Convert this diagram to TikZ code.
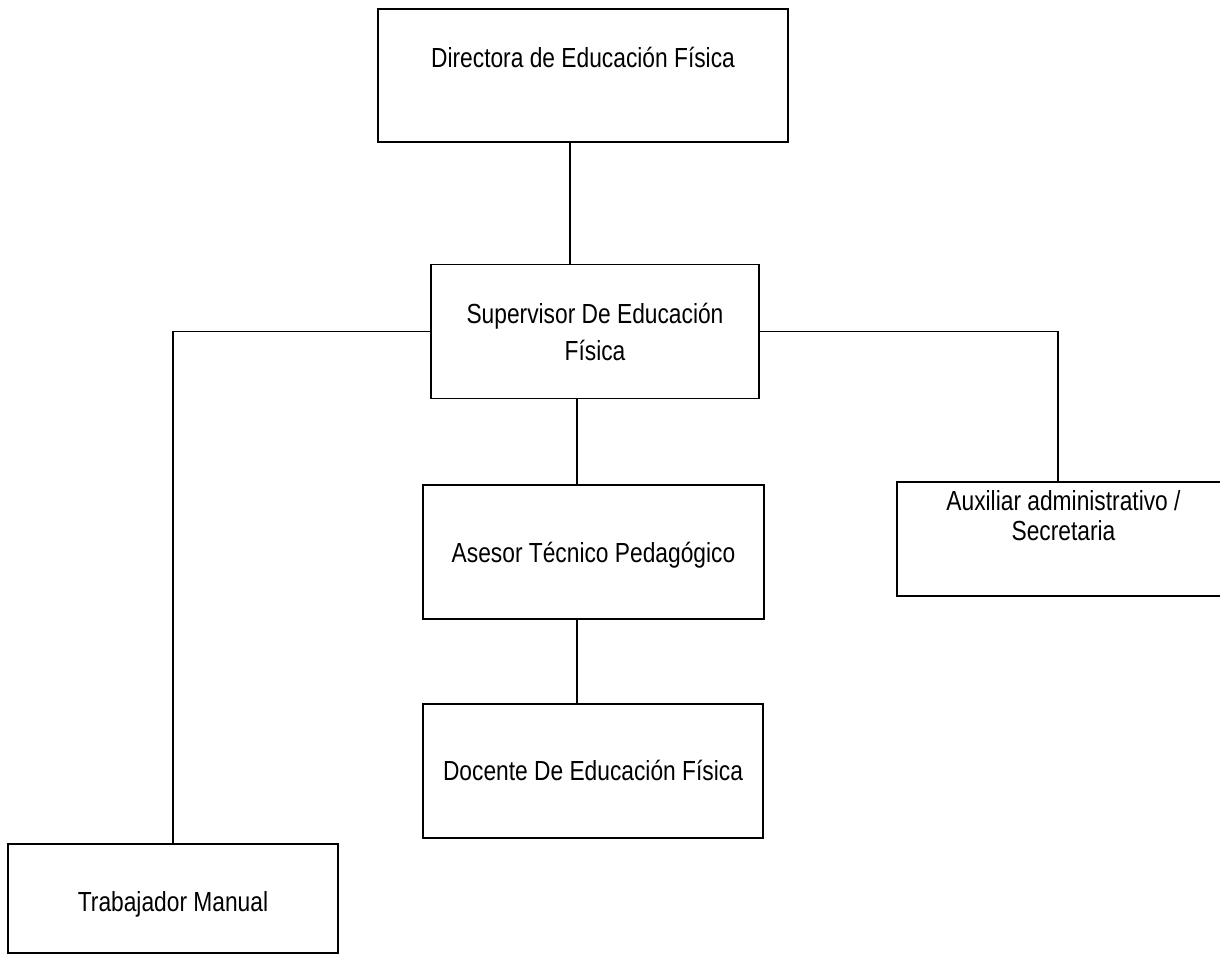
\documentclass[tikz,border=0pt]{standalone}
\usepackage{fontspec}
\setmainfont{Liberation Sans}[FakeStretch=0.825]
\usetikzlibrary{positioning}

\begin{document}
\begin{tikzpicture}[x=0.5pt, y=-0.5pt,
    font=\fontsize{13.8pt}{18.5pt}\selectfont,
    cargo/.style={draw, line width=0.8pt, inner sep=0pt, align=center,
      minimum height=67pt},
    linea/.style={text height=9.9pt, text depth=0pt},
    enlace/.style={line width=0.8pt}]
  \useasboundingbox (0,0) rectangle (1220,955);
  \clip (0,0) rectangle (1220,955);

  \node[cargo, linea, minimum width=205pt, minimum height=66.5pt, text depth=18pt]
    (dir) at (583,75.5) {Directora de Educación Física};
  \node[cargo, minimum width=164pt, below=60.5pt of dir, xshift=6pt]
    (sup) {Supervisor De Educación\\Física};
  \node[cargo, linea, minimum width=170.5pt, below=42.5pt of sup, xshift=-0.75pt]
    (ase) {Asesor Técnico Pedagógico};
  \node[cargo, linea, minimum width=170pt, below=41.5pt of ase, xshift=-0.25pt]
    (doc) {Docente De Educación Física};
  \node[cargo, minimum width=166.5pt, minimum height=57pt, text depth=24pt,
    font=\fontsize{13.8pt}{15pt}\selectfont]
    (aux) at (1063.5,539) {Auxiliar administrativo /\\Secretaria};
  \node[cargo, linea, minimum width=165pt, minimum height=54.5pt, text height=13.4pt]
    (tra) at (173,898.5) {Trabajador Manual};

  \draw[enlace] ([xshift=-6.5pt]dir.south) -- ([xshift=-6.5pt]dir.south |- sup.north);
  \draw[enlace] ([xshift=-9pt]sup.south) -- ([xshift=-9pt]sup.south |- ase.north);
  \draw[enlace] ([xshift=-8.25pt]ase.south) -- ([xshift=-8.25pt]ase.south |- doc.north);
  \draw[enlace] (sup.west) -| (tra.north);
  \draw[enlace] (sup.east) -| ([xshift=-2.75pt]aux.north);
\end{tikzpicture}
\end{document}
